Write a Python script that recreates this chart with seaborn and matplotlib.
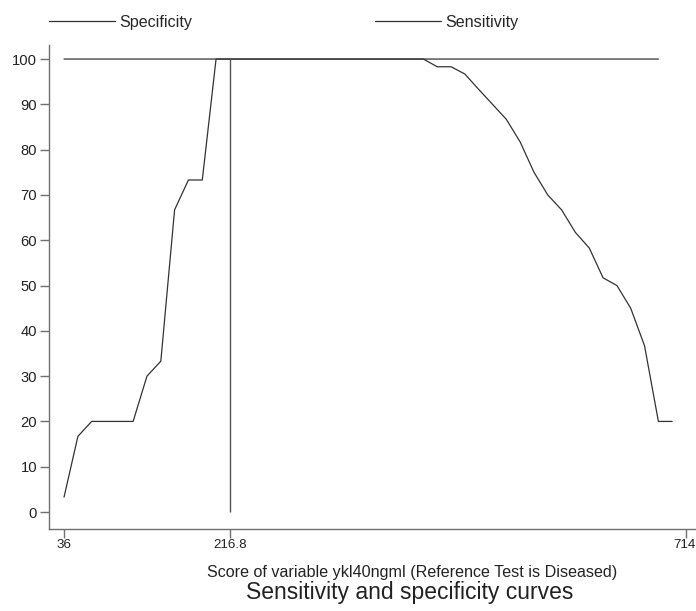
import matplotlib
matplotlib.use("Agg")
import matplotlib.pyplot as plt
import matplotlib.transforms as mtransforms
import seaborn as sns
import pandas as pd
from matplotlib.lines import Line2D

# ---- data ----
scores = [36.0, 51.1, 66.1, 81.2, 96.3, 111.3, 126.4, 141.5, 156.5, 171.6,
          186.7, 201.7, 216.8, 231.9, 246.9, 262.0, 277.1, 292.1, 307.2, 322.3,
          337.3, 352.4, 367.5, 382.5, 397.6, 412.7, 427.7, 442.8, 457.9, 472.9,
          488.0, 503.1, 518.1, 533.2, 548.3, 563.3, 578.4, 593.5, 608.5, 623.6,
          638.7, 653.7, 668.8, 683.9, 698.9]

specificity = [3.3, 16.7, 20.0, 20.0, 20.0, 20.0, 30.0, 33.3, 66.7, 73.3,
               73.3, 100, 100, 100, 100, 100, 100, 100, 100, 100,
               100, 100, 100, 100, 100, 100, 100, 100, 100, 100,
               100, 100, 100, 100, 100, 100, 100, 100, 100, 100,
               100, 100, 100, 100]

sensitivity = [100, 100, 100, 100, 100, 100, 100, 100, 100, 100,
               100, 100, 100, 100, 100, 100, 100, 100, 100, 100,
               100, 100, 100, 100, 100, 100, 100, 98.3, 98.3, 96.7,
               93.3, 90.0, 86.7, 81.7, 75.0, 70.0, 66.7, 61.7, 58.3, 51.7,
               50.0, 45.0, 36.7, 20.0, 20.0]

cutoff = 216.8
x_ticks = [36, 216.8, 714]
x_ticklabels = ["36", "216.8", "714"]
y_ticks = [0, 10, 20, 30, 40, 50, 60, 70, 80, 90, 100]

spec_df = pd.DataFrame({"score": scores[:len(specificity)], "value": specificity})
sens_df = pd.DataFrame({"score": scores[:len(sensitivity)], "value": sensitivity})

# ---- style ----
sns.set_theme(style="white")
plt.rcParams["font.family"] = ["Liberation Sans", "DejaVu Sans"]

fig = plt.figure(figsize=(6.96, 6.11), dpi=100)
ax = fig.add_axes([49 / 696, 82 / 611, 647 / 696, 484 / 611])

line_col = "#333333"
axis_col = "#707070"

sns.lineplot(data=spec_df, x="score", y="value", ax=ax, color=line_col,
             linewidth=0.9, estimator=None, sort=False)
sns.lineplot(data=sens_df, x="score", y="value", ax=ax, color=line_col,
             linewidth=0.9, estimator=None, sort=False)
ax.vlines(cutoff, 0, 100, color="#555555", linewidth=1.0)

ax.set_xlim(19.6, 724.9)
ax.set_ylim(-3.75, 103.1)

ax.set_xticks(x_ticks)
ax.set_xticklabels(x_ticklabels)
ax.set_yticks(y_ticks)
ax.set_yticklabels([str(v) for v in y_ticks])

ax.tick_params(axis="both", which="major", direction="out", length=6.5,
               width=1.0, color=axis_col, labelcolor="#222222", bottom=True, left=True)
ax.tick_params(axis="y", labelsize=10.6, pad=2)
ax.tick_params(axis="x", labelsize=9.6, pad=1)

# keep the last x tick label inside the canvas
last_lab = ax.get_xticklabels()[-1]
last_lab.set_transform(last_lab.get_transform() +
                       mtransforms.ScaledTranslation(-2 / 100, 0, fig.dpi_scale_trans))

for side in ["top", "right"]:
    ax.spines[side].set_visible(False)
for side in ["left", "bottom"]:
    ax.spines[side].set_color(axis_col)
    ax.spines[side].set_linewidth(1.0)

ax.set_xlabel("")
ax.set_ylabel("")

fig.text(412 / 696, 1 - 573 / 611, "Score of variable ykl40ngml (Reference Test is Diseased)",
         ha="center", va="center", fontsize=11.6, color="#222222")
fig.text(410 / 696, 1 - 592 / 611, "Sensitivity and specificity curves",
         ha="center", va="center", fontsize=16.5, color="#222222")

h = Line2D([], [], color=line_col, linewidth=0.9)
fig.legend([h], ["Specificity"], loc="center left",
           bbox_to_anchor=(49 / 696, 1 - 22 / 611), frameon=False,
           borderpad=0, borderaxespad=0, handlelength=4.1,
           handletextpad=0.25, fontsize=11.6)
fig.legend([h], ["Sensitivity"], loc="center left",
           bbox_to_anchor=(375 / 696, 1 - 22 / 611), frameon=False,
           borderpad=0, borderaxespad=0, handlelength=4.1,
           handletextpad=0.25, fontsize=11.6)

fig.savefig("out.png", dpi=100)
